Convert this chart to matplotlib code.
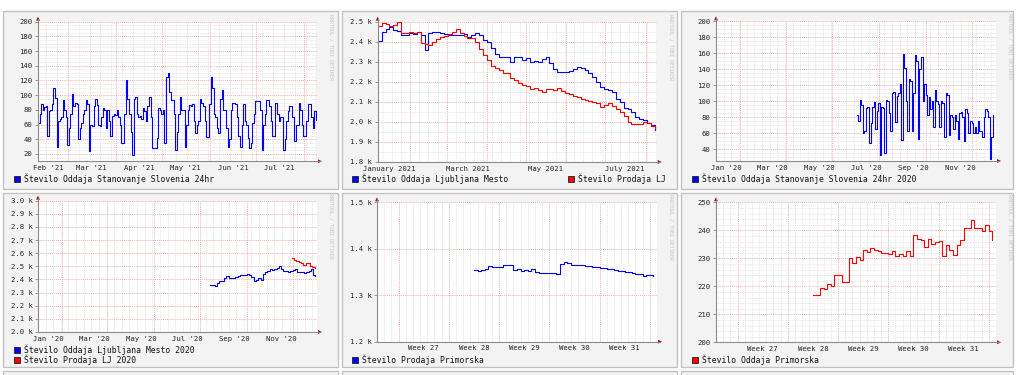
import matplotlib
matplotlib.use("Agg")
import matplotlib.pyplot as plt
import matplotlib.dates as mdates
from matplotlib.patches import Rectangle, Polygon
from matplotlib.lines import Line2D
import pandas as pd

W, H = 1016, 375

# ---- data ----
# panel 1: Stevilo Oddaja Stanovanje Slovenia 24hr (daily, 2021)
P1_START = "2021-02-09 12:00"
P1_VALUES = [62, 75, 88, 80, 84, 85, 45, 78, 80, 88, 110, 96, 30, 65,
             68, 70, 93, 80, 70, 32, 55, 75, 102, 85, 90, 88, 40, 55,
             62, 75, 80, 93, 88, 24, 60, 58, 85, 95, 86, 60, 58, 70,
             82, 80, 55, 80, 65, 45, 72, 75, 73, 80, 70, 60, 35, 35,
             75, 120, 95, 75, 50, 18, 95, 98, 75, 70, 72, 68, 83, 78,
             65, 85, 97, 70, 28, 28, 28, 42, 82, 80, 75, 80, 35, 125,
             130, 105, 93, 93, 75, 25, 50, 75, 97, 80, 80, 30, 60, 80,
             87, 85, 88, 65, 48, 60, 65, 95, 90, 85, 65, 43, 43, 88,
             125, 110, 75, 70, 55, 48, 95, 107, 80, 80, 55, 30, 40, 80,
             90, 90, 88, 70, 45, 30, 60, 88, 65, 60, 42, 28, 35, 62,
             75, 92, 92, 92, 80, 25, 60, 75, 93, 93, 85, 65, 45, 45,
             90, 75, 65, 70, 70, 25, 40, 65, 78, 85, 85, 70, 37, 60,
             60, 90, 80, 60, 45, 45, 65, 88, 88, 70, 55, 78, 66]
P1_LABELS = ["Feb '21", "Mar '21", "Apr '21", "May '21", "Jun '21", "Jul '21"]

# panel 2: Ljubljana Mesto (blue) vs Prodaja LJ (red), every 3 days
P2_START = "2021-01-07"
P2_BLUE = [2405, 2450, 2462, 2475, 2458, 2455, 2433, 2435, 2442, 2440,
           2450, 2433, 2360, 2442, 2450, 2450, 2442, 2440, 2433, 2433,
           2433, 2435, 2440, 2425, 2435, 2442, 2435, 2410, 2400, 2370,
           2340, 2325, 2325, 2325, 2300, 2322, 2325, 2310, 2318, 2300,
           2302, 2298, 2315, 2325, 2292, 2265, 2250, 2250, 2248, 2255,
           2262, 2272, 2268, 2258, 2245, 2225, 2198, 2175, 2165, 2160,
           2150, 2115, 2100, 2068, 2062, 2050, 2025, 2015, 2012, 1993,
           1985, 1962]
P2_RED = [2480, 2492, 2490, 2478, 2485, 2500, 2442, 2442, 2448, 2442,
          2450, 2392, 2390, 2385, 2400, 2412, 2425, 2430, 2440, 2450,
          2462, 2442, 2430, 2420, 2418, 2400, 2362, 2335, 2310, 2280,
          2270, 2258, 2242, 2245, 2220, 2208, 2192, 2183, 2180, 2162,
          2168, 2160, 2150, 2165, 2165, 2160, 2168, 2152, 2143, 2140,
          2128, 2122, 2115, 2108, 2105, 2100, 2092, 2075, 2085, 2092,
          2078, 2062, 2048, 2030, 2002, 1992, 1992, 1990, 1998, 1995,
          1980, 1972]
P2_LABELS = ["January 2021", "March 2021", "May 2021", "July 2021"]

# panel 3: Stanovanje Slovenia 24hr 2020, every 2 days
P3_START = "2020-07-03"
P3_VALUES = [82, 75, 102, 95, 60, 62, 92, 93, 47, 72, 93, 99, 65, 88, 98,
             33, 93, 92, 35, 102, 100, 85, 62, 110, 111, 74, 107, 110, 122,
             51, 159, 142, 100, 62, 128, 125, 63, 110, 158, 150, 53, 140,
             155, 100, 122, 108, 83, 105, 90, 100, 68, 114, 100, 97, 68,
             100, 98, 55, 110, 108, 58, 82, 80, 65, 82, 75, 52, 85, 87, 80,
             50, 90, 85, 60, 75, 73, 60, 68, 60, 75, 63, 62, 55, 80, 90, 88,
             80, 28, 55, 82]
MONTHS_2020 = ["Jan '20", "Mar '20", "May '20", "Jul '20", "Sep '20", "Nov '20"]

# panel 4: Ljubljana Mesto 2020 (blue) and Prodaja LJ 2020 (red), every 3 days
P4_BLUE_START = "2020-08-14"
P4_BLUE = [2358, 2355, 2352, 2370, 2385, 2388, 2410, 2428, 2410, 2415,
           2410, 2420, 2430, 2434, 2432, 2436, 2440, 2432, 2418, 2385,
           2395, 2412, 2396, 2440, 2455, 2465, 2480, 2472, 2482, 2490,
           2500, 2480, 2462, 2465, 2456, 2462, 2470, 2478, 2460, 2455,
           2456, 2448, 2455, 2462, 2482, 2435, 2430]
P4_RED_START = "2020-11-29"
P4_RED = [2565, 2550, 2540, 2532, 2523, 2512, 2528, 2522, 2505, 2495, 2485]

# panel 5 / 6: Primorska, every 12 hours
P56_START = "2021-07-15 12:00"
P5_VALUES = [1354, 1352, 1354, 1357, 1363, 1361, 1361, 1361, 1365, 1365,
             1365, 1354, 1356, 1352, 1354, 1352, 1356, 1350, 1348, 1347,
             1347, 1347, 1347, 1345, 1367, 1371, 1369, 1366, 1365, 1365,
             1364, 1363, 1363, 1361, 1361, 1358, 1358, 1356, 1357, 1355,
             1353, 1352, 1351, 1349, 1347, 1346, 1345, 1342, 1344, 1343,
             1342]
P6_VALUES = [217, 217, 219.5, 219, 221, 220, 224, 224, 221.5, 221.5,
             230, 228.5, 230.5, 229.5, 233, 232.4, 233.8, 233, 232.6, 231.8,
             231.8, 231.5, 232.6, 231, 231.5, 231, 232.6, 231, 238.5, 237,
             236.5, 234.2, 236.9, 235, 236, 236.2, 231, 234.8, 233, 231.2,
             234.8, 236.5, 241, 240.8, 243.7, 241, 241, 239.8, 241.8, 239.8,
             236.5]
WEEK_LABELS = ["Week 27", "Week 28", "Week 29", "Week 30", "Week 31"]

BLUE = "#0000ff"
RED = "#ff0000"

plt.rcParams['font.family'] = ['DejaVu Sans Mono']
fig = plt.figure(figsize=(W / 100, H / 100), dpi=100)
fig.patch.set_facecolor("white")


def fx(px):
    return px / W


def fy(py):
    return 1 - py / H


def frame(x0, y0, x1, y1):
    fig.add_artist(Rectangle((fx(x0), fy(y1)), fx(x1) - fx(x0), fy(y0) - fy(y1),
                             transform=fig.transFigure, facecolor="#f3f3f3",
                             edgecolor="#c2c2c2", lw=1, zorder=-5))


def axis_box(x0, y0, x1, y1):
    ax = fig.add_axes([fx(x0), fy(y1), fx(x1) - fx(x0), fy(y0) - fy(y1)])
    ax.set_facecolor("white")
    for s in ax.spines.values():
        s.set_visible(False)
    # axis lines and arrows, like rrdtool
    fig.add_artist(Line2D([fx(x0), fx(x1 + 3)], [fy(y1), fy(y1)],
                          transform=fig.transFigure, color="#8a8a8a", lw=0.8))
    fig.add_artist(Line2D([fx(x0), fx(x0)], [fy(y1), fy(y0 - 3)],
                          transform=fig.transFigure, color="#8a8a8a", lw=0.8))
    fig.add_artist(Polygon([(fx(x1 + 1), fy(y1 - 2)), (fx(x1 + 1), fy(y1 + 2)),
                            (fx(x1 + 5), fy(y1))], closed=True,
                           transform=fig.transFigure, color="#a01010", lw=0))
    fig.add_artist(Polygon([(fx(x0 - 2), fy(y0 - 1)), (fx(x0 + 2), fy(y0 - 1)),
                            (fx(x0), fy(y0 - 5))], closed=True,
                           transform=fig.transFigure, color="#a01010", lw=0))
    fig.text(fx(x1 + 14), fy(y0 - 8), "RRDTOOL / TOBI OETIKER", rotation=270,
             ha="center", va="top", fontsize=3.6, color="#c4c4c4")
    return ax


def style(ax, xlim, major_x, minor_x, labels, label_x, ylim, major_y, minor_y, ylabels):
    d = mdates.date2num
    ax.set_xlim(d(pd.Timestamp(xlim[0])), d(pd.Timestamp(xlim[1])))
    ax.set_ylim(*ylim)
    ax.set_xticks([d(pd.Timestamp(t)) for t in major_x])
    ax.set_xticks([d(pd.Timestamp(t)) for t in minor_x], minor=True)
    ax.set_yticks(major_y)
    ax.set_yticklabels(ylabels)
    ax.set_yticks(minor_y, minor=True)
    ax.grid(which="minor", color="#e6dede", lw=0.6, linestyle=(0, (1, 1)))
    ax.grid(which="major", color="#f0b0b0", lw=0.7, linestyle=(0, (1, 1)))
    ax.set_axisbelow(True)
    ax.tick_params(axis="x", which="both", length=0, labelbottom=False)
    ax.tick_params(axis="y", which="major", length=2.5, width=0.6, color="#8a8a8a",
                   pad=1.5, labelsize=5.2, labelcolor="#222222")
    ax.tick_params(axis="y", which="minor", length=0)
    for lab, t in zip(labels, label_x):
        ax.annotate(lab, xy=(d(pd.Timestamp(t)), 0), xycoords=("data", "axes fraction"),
                    xytext=(0, -2.6), textcoords="offset points", ha="center", va="top",
                    fontsize=5.2, color="#222222")


def legend(x, y, color, text):
    fig.add_artist(Rectangle((fx(x), fy(y + 3)), fx(6), 6 / H, transform=fig.transFigure,
                             facecolor=color, edgecolor="#202020", lw=0.6))
    fig.text(fx(x + 10), fy(y), text, ha="left", va="center", fontsize=5.9, color="#111111")


def series(start, values, freq):
    return pd.date_range(start, periods=len(values), freq=freq)


# panel frames (3 per row, plus the top of a third row)
cols = [(3, 337.5), (342, 676.5), (681, 1013)]
for x0, x1 in cols:
    frame(x0, 11, x1, 189)
    frame(x0, 193, x1, 367)
    frame(x0, 371, x1, 390)

LW = 0.8

# ---- panel 1 ----
ax = axis_box(38, 21.7, 317, 161.3)
x = series(P1_START, P1_VALUES, "D")
ax.step(x, P1_VALUES, where="post", color=BLUE, lw=LW)
style(ax, ("2021-02-09 12:00", "2021-08-09 10:00"),
      pd.date_range("2021-03-01", "2021-08-01", freq="MS"),
      pd.date_range("2021-02-15", "2021-08-09", freq="W-MON"),
      P1_LABELS, ["2021-02-16", "2021-03-16", "2021-04-16", "2021-05-16", "2021-06-16", "2021-07-16"],
      (10, 200), range(20, 201, 20), range(10, 201, 5), [str(v) for v in range(20, 201, 20)])
legend(13.5, 179, BLUE, "Število Oddaja Stanovanje Slovenia 24hr")

# ---- panel 2 ----
ax = axis_box(377.7, 21.7, 656.7, 162)
x = series(P2_START, P2_BLUE, "3D")
ax.step(x, P2_BLUE, where="post", color=BLUE, lw=LW)
ax.step(x, P2_RED, where="post", color=RED, lw=LW)
style(ax, ("2021-01-07", "2021-08-09 10:00"),
      pd.date_range("2021-02-01", "2021-08-01", freq="MS"),
      pd.date_range("2021-01-11", "2021-08-09", freq="W-MON"),
      P2_LABELS, ["2021-01-16", "2021-03-17", "2021-05-16", "2021-07-16"],
      (1800, 2500), range(1800, 2501, 100), range(1800, 2501, 50),
      ["1.8 k", "1.9 k", "2.0 k", "2.1 k", "2.2 k", "2.3 k", "2.4 k", "2.5 k"])
legend(351.7, 179, BLUE, "Število Oddaja Ljubljana Mesto")
legend(567.7, 179, RED, "Število Prodaja LJ")

# ---- panel 3 ----
ax = axis_box(716, 21.3, 996, 161)
x = series(P3_START, P3_VALUES, "2D")
ax.step(x, P3_VALUES, where="post", color=BLUE, lw=LW)
style(ax, ("2020-01-01", "2021-01-01"),
      pd.date_range("2020-02-01", "2020-12-01", freq="2MS"),
      pd.date_range("2020-01-01", "2020-12-31", freq="10D"),
      MONTHS_2020, ["2020-01-15", "2020-03-15", "2020-05-15", "2020-07-15", "2020-09-15", "2020-11-15"],
      (25, 200), range(40, 201, 20), range(25, 201, 5), [str(v) for v in range(40, 201, 20)])
legend(691.7, 179, BLUE, "Število Oddaja Stanovanje Slovenia 24hr 2020")

# ---- panel 4 ----
ax = axis_box(38, 200.7, 317, 332)
xb = series(P4_BLUE_START, P4_BLUE, "3D")
xr = series(P4_RED_START, P4_RED, "3D")
ax.step(xb, P4_BLUE, where="post", color=BLUE, lw=LW)
ax.step(xr, P4_RED, where="post", color=RED, lw=LW)
style(ax, ("2020-01-01", "2021-01-01"),
      pd.date_range("2020-02-01", "2020-12-01", freq="2MS"),
      pd.date_range("2020-01-01", "2020-12-31", freq="10D"),
      MONTHS_2020, ["2020-01-15", "2020-03-15", "2020-05-15", "2020-07-15", "2020-09-15", "2020-11-15"],
      (2000, 3000), range(2000, 3001, 100), [],
      ["2.0 k", "2.1 k", "2.2 k", "2.3 k", "2.4 k", "2.5 k", "2.6 k", "2.7 k", "2.8 k", "2.9 k", "3.0 k"])
legend(13.5, 350, BLUE, "Število Oddaja Ljubljana Mesto 2020")
legend(13.5, 359.5, RED, "Število Prodaja LJ 2020")

# ---- panel 5 ----
week_major = pd.date_range("2021-07-05", "2021-08-09", freq="W-MON")
week_minor = pd.date_range("2021-07-02", "2021-08-10", freq="D")
week_pos = ["2021-07-08 12:00", "2021-07-15 12:00", "2021-07-22 12:00",
            "2021-07-29 12:00", "2021-08-05 12:00"]
ax = axis_box(377, 202.3, 657, 341.7)
x = series(P56_START, P5_VALUES, "12h")
ax.step(x, P5_VALUES, where="post", color=BLUE, lw=LW)
style(ax, ("2021-07-02", "2021-08-10"), week_major, week_minor, WEEK_LABELS, week_pos,
      (1200, 1500), range(1200, 1501, 100), [], ["1.2 k", "1.3 k", "1.4 k", "1.5 k"])
legend(351.7, 359.5, BLUE, "Število Prodaja Primorska")

# ---- panel 6 ----
ax = axis_box(716, 202.3, 996, 342.3)
x = series(P56_START, P6_VALUES, "12h")
ax.step(x, P6_VALUES, where="post", color=RED, lw=LW)
style(ax, ("2021-07-02", "2021-08-10"), week_major, week_minor, WEEK_LABELS, week_pos,
      (200, 250), range(200, 251, 10), range(200, 251, 2), [str(v) for v in range(200, 251, 10)])
legend(691.7, 359.5, RED, "Število Oddaja Primorska")

fig.savefig("out.png", dpi=100)
